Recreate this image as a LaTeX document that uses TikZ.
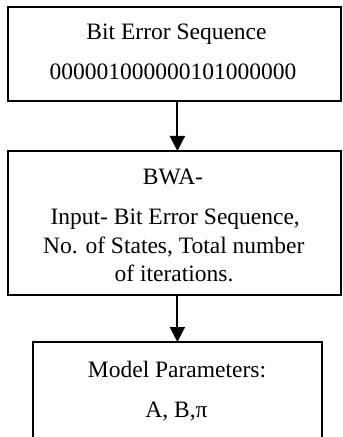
\documentclass[tikz,border=0pt]{standalone}
\usepackage{fontspec}
\setmainfont{Liberation Serif}
\usetikzlibrary{arrows.meta}
\begin{document}
\begin{tikzpicture}[x=0.5pt,y=-0.5pt,
  box/.style={draw,line width=1pt,inner sep=0pt,outer sep=0pt},
  txt/.style={anchor=base,inner sep=0pt,font=\fontsize{11.75}{14}\selectfont},
  conn/.style={line width=1pt,-{Triangle[width=7.5pt,length=7.5pt]}}]
\useasboundingbox (0,0) rectangle (342,437);
\clip (0,0) rectangle (342,437);
% boxes
\node[box,minimum width=166.1pt,minimum height=46.7pt] (b1) at (174.4,54) {};
\node[box,minimum width=166.1pt,minimum height=71.75pt] (b2) at (174.4,222.75) {};
\node[box,minimum width=144.25pt,minimum height=59pt] (b3) at (177.4,401) {};
% texts
\node[txt] (t11) at (176.5,40) {Bit Error Sequence};
\node[txt] (t12) at (173,80) {000001000000101000000};
\node[txt] (t21) at (173,185) {BWA-};
\node[txt] (t22) at (175.2,225) {Input- Bit Error Sequence,};
\node[txt] (t23) at (173.8,254) {No. of States, Total number};
\node[txt] (t24) at (174,281.5) {of iterations.};
\node[txt] (t31) at (177,377) {Model Parameters:};
\node[txt] (t32) at (176.5,417.5) {A, B,π};
% connectors
\draw[conn] (b1.south -| b3.north) -- (b2.north -| b3.north);
\draw[conn] (b2.south -| b3.north) -- (b3.north);
\end{tikzpicture}
\end{document}
